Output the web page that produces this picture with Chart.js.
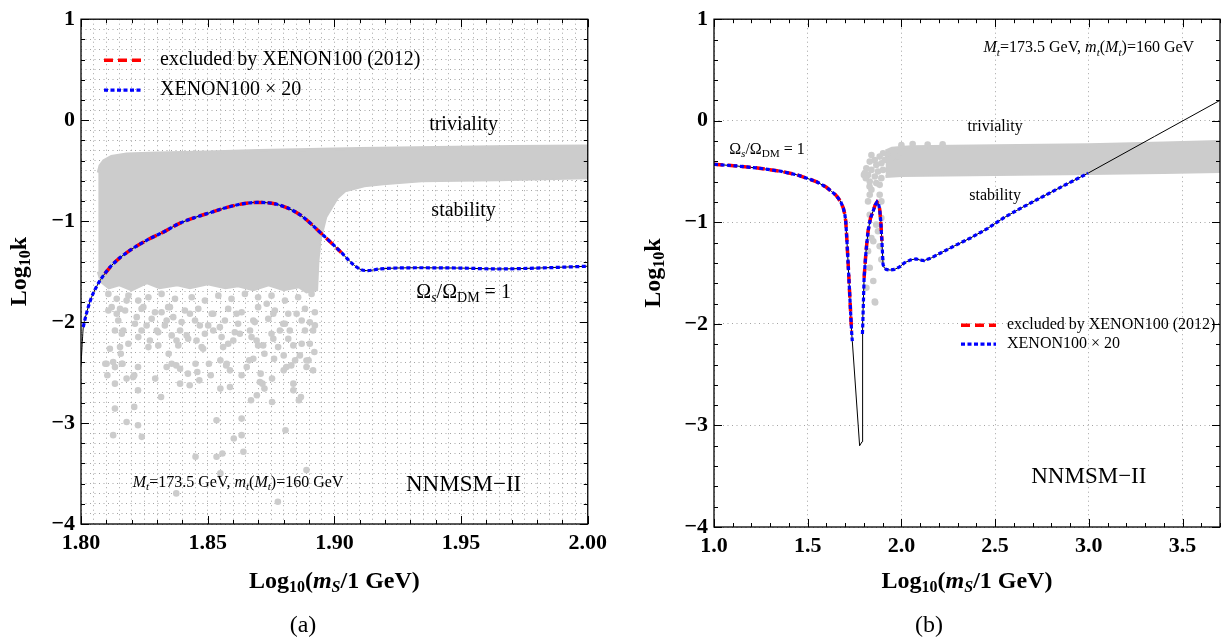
<!DOCTYPE html>
<html>
<head>
<meta charset="utf-8">
<script src="https://cdn.jsdelivr.net/npm/chart.js@4.4.1/dist/chart.umd.min.js"></script>
<style>
  html, body { margin: 0; padding: 0; background: #fff; }
  #wrap { position: relative; width: 1226px; height: 640px; overflow: hidden; }
  canvas { position: absolute; top: 0; }
</style>
</head>
<body>
<div id="wrap">
  <canvas id="chartA" width="613" height="640" style="left:0"></canvas>
  <canvas id="chartB" width="613" height="640" style="left:613px"></canvas>
</div>
<script>
// tick labels
const xMajorA = [1.80, 1.85, 1.90, 1.95, 2.00];
const xMajorB = [1.0, 1.5, 2.0, 2.5, 3.0, 3.5];
const yMajor = [-4, -3, -2, -1, 0, 1];

// panel (a) : relic density line Omega_s/Omega_DM = 1
const relicA = [[1.8,-2.43],[1.8004,-2.25],[1.8009,-2.05],[1.8015,-1.98],[1.8035,-1.80],[1.8061,-1.65],
  [1.8094,-1.52],[1.8128,-1.42],[1.8193,-1.29],[1.8259,-1.19],[1.8324,-1.11],[1.8391,-1.02],[1.8512,-0.914],
  [1.8618,-0.838],[1.8694,-0.815],[1.8769,-0.831],[1.886,-0.93],[1.8951,-1.128],[1.9027,-1.31],[1.9072,-1.424],
  [1.9105,-1.48],[1.9132,-1.49],[1.9178,-1.474],[1.9344,-1.462],[1.95,-1.465],[1.9647,-1.474],[1.98,-1.465],[2.0,-1.447]];
const redRangesA = [[1.8094, 1.9027]];
const blueRangesA = [[1.8009, 2.0]];

// panel (a) : scan points (dense part as upper / lower edge, loose points listed)
const bandTopA = [[1.8068,-0.52],[1.8075,-0.45],[1.809,-0.40],[1.812,-0.36],[1.818,-0.335],[1.83,-0.325],
  [1.85,-0.315],[1.87,-0.30],[1.89,-0.29],[1.91,-0.28],[1.94,-0.27],[1.97,-0.26],[2.0,-0.255]];
const bandLowA = [[1.8068,-1.5],[1.808,-1.6],[1.811,-1.66],[1.815,-1.63],[1.82,-1.68],[1.826,-1.61],[1.831,-1.66],
  [1.838,-1.63],[1.843,-1.66],[1.85,-1.62],[1.857,-1.66],[1.862,-1.64],[1.868,-1.68],[1.874,-1.63],[1.88,-1.68],
  [1.886,-1.65],[1.889,-1.70],[1.893,-1.68],[1.8935,-1.4],[1.8943,-1.19],[1.8966,-0.96],
  [1.9011,-0.77],[1.9042,-0.70],[1.9118,-0.65],[1.9193,-0.63],[1.9344,-0.60],[1.9647,-0.59],[2.0,-0.57]];
const scanA = [[1.8108,-1.885],[1.8141,-1.918],[1.8154,-1.869],[1.8167,-2.083],[1.8134,-2.083],[1.8114,-2.264],
  [1.8154,-2.248],[1.8101,-2.413],[1.8134,-2.446],[1.8161,-2.413],[1.8206,-2.545],[1.8239,-2.083],[1.822,-1.951],
  [1.8259,-2.034],[1.8299,-2.083],[1.8272,-2.182],[1.8305,-2.231],[1.8318,-1.902],[1.8338,-1.984],[1.8364,-1.951],
  [1.8391,-2.083],[1.8377,-2.182],[1.8358,-2.413],[1.8417,-2.132],[1.8469,-2.034],[1.8456,-2.182],[1.8482,-2.264],
  [1.8522,-2.083],[1.8548,-2.05],[1.8561,-2.248],[1.8575,-2.413],[1.8601,-2.182],[1.8627,-2.116],[1.8667,-2.083],
  [1.868,-1.984],[1.8693,-2.182],[1.8719,-2.231],[1.868,-2.363],[1.8654,-2.446],[1.8706,-2.594],[1.8759,-2.165],
  [1.8785,-2.083],[1.8798,-2.017],[1.8824,-2.083],[1.8838,-2.231],[1.8864,-2.33],[1.889,-2.38],[1.8903,-2.215],
  [1.8916,-2.083],[1.8916,-2.478],[1.8838,-2.61],[1.8811,-2.446],[1.8903,-2.001],[1.8851,-1.918],[1.8759,-1.918],
  [1.8733,-1.819],[1.8614,-1.918],[1.8522,-1.918],[1.843,-1.918],[1.8351,-1.852],[1.8246,-1.852],[1.818,-1.787],
  [1.8157,-2.313],[1.8096,-2.412],[1.8127,-2.396],[1.8164,-2.412],[1.8104,-2.527],[1.8134,-2.61],[1.818,-2.56],
  [1.821,-2.527],[1.8225,-2.445],[1.8346,-2.313],[1.8376,-2.429],[1.8391,-2.462],[1.8422,-2.511],[1.8452,-2.412],
  [1.8459,-2.495],[1.8467,-2.577],[1.8429,-2.626],[1.8391,-2.61],[1.8338,-2.445],[1.8293,-2.56],[1.855,-2.379],
  [1.8573,-2.429],[1.8588,-2.478],[1.8634,-2.527],[1.8664,-2.379],[1.8709,-2.511],[1.8754,-2.56],[1.8762,-2.363],
  [1.88,-2.478],[1.883,-2.429],[1.8845,-2.379],[1.889,-2.445],[1.8898,-2.379],[1.8921,-2.297],[1.8505,-2.412],
  [1.8512,-2.527],[1.855,-2.659],[1.8588,-2.643],[1.8716,-2.61],[1.8724,-2.659],[1.8838,-2.676],[1.886,-2.774],
  [1.8868,-2.742],[1.88,-2.33],[1.8724,-2.313],[1.8316,-2.742],[1.8225,-2.676],[1.821,-2.84],[1.8134,-2.857],
  [1.818,-2.989],[1.8225,-3.022],[1.8127,-3.12],[1.824,-3.137],[1.8535,-2.972],[1.8634,-2.956],[1.8634,-3.12],
  [1.8641,-3.285],[1.8603,-3.153],[1.8535,-3.334],[1.8558,-3.301],[1.8452,-3.334],[1.855,-3.499],[1.8376,-3.697],
  [1.8777,-3.779],[1.8807,-3.071],[1.889,-3.466],[1.8671,-2.774],[1.8694,-2.725],[1.8754,-2.791],
  [1.8108,-1.721],[1.8141,-1.77],[1.8187,-1.738],[1.8226,-1.787],[1.8266,-1.754],[1.8318,-1.721],[1.8371,-1.77],
  [1.8437,-1.754],[1.8489,-1.787],[1.8542,-1.738],[1.8594,-1.77],[1.8647,-1.721],[1.8699,-1.754],[1.8752,-1.738],
  [1.8805,-1.787],[1.8857,-1.754],[1.891,-1.721],
  [1.8121,-1.852],[1.8174,-1.885],[1.8239,-1.869],[1.8292,-1.902],[1.8344,-1.852],[1.841,-1.885],[1.8463,-1.869],
  [1.8516,-1.918],[1.8581,-1.869],[1.8634,-1.902],[1.8699,-1.852],[1.8765,-1.885],[1.8818,-1.918],[1.8884,-1.869],
  [1.8923,-1.902],
  [1.8147,-1.984],[1.8213,-2.017],[1.8279,-1.968],[1.8331,-2.033],[1.8397,-2.0],[1.845,-1.984],[1.8502,-2.033],
  [1.8568,-1.984],[1.862,-2.017],[1.8686,-2.0],[1.8739,-1.968],[1.8805,-2.017],[1.8871,-1.984],[1.8923,-2.033],
  [1.8161,-2.116],[1.8226,-2.149],[1.8305,-2.1],[1.8358,-2.132],[1.8423,-2.165],[1.8489,-2.116],[1.8555,-2.149],
  [1.8607,-2.1],[1.8673,-2.149],[1.8752,-2.116],[1.8818,-2.165],[1.8884,-2.083],
  [1.8187,-2.215],[1.8266,-2.248],[1.8384,-2.231],[1.8476,-2.248],[1.8581,-2.215],[1.8699,-2.231],[1.8778,-2.248],
  [1.8871,-2.215]];

// panel (b) : relic density line
const relicB = [[1.0,-0.428],[1.12,-0.445],[1.241,-0.467],[1.35,-0.495],[1.444,-0.533],[1.545,-0.598],[1.60,-0.655],
  [1.627,-0.696],[1.648,-0.728],[1.663,-0.762],[1.678,-0.805],[1.69,-0.86],[1.698,-0.92],[1.703,-0.99],[1.709,-1.17],
  [1.716,-1.415],[1.725,-1.74],[1.734,-2.07],[1.738,-2.17],[1.777,-3.2],[1.790,-3.16],[1.792,-2.1],[1.794,-2.0],
  [1.801,-1.546],[1.811,-1.29],[1.822,-1.088],[1.835,-0.96],[1.849,-0.89],[1.860,-0.83],[1.870,-0.80],[1.878,-0.82],
  [1.884,-0.87],[1.890,-0.99],[1.896,-1.186],[1.902,-1.415],[1.909,-1.45],[1.919,-1.464],[1.94,-1.47],[1.963,-1.464],
  [1.99,-1.44],[2.016,-1.399],[2.05,-1.37],[2.078,-1.36],[2.10,-1.372],[2.122,-1.376],[2.16,-1.35],[2.193,-1.317],
  [2.28,-1.235],[2.369,-1.154],[2.46,-1.06],[2.545,-0.957],[2.63,-0.868],[2.722,-0.778],[2.86,-0.645],[2.996,-0.516],
  [3.35,-0.155],[3.702,0.203]];
const redRangesB = [[1.0, 1.734], [1.801, 1.896]];
const blueRangesB = [[1.0, 1.738], [1.792, 2.996]];

// panel (b) : scan points
const bandTopB = [[1.915,-0.30],[1.95,-0.27],[2.05,-0.255],[2.5,-0.245],[3.0,-0.235],[3.4,-0.22],[3.7,-0.205]];
const bandLowB = [[1.915,-0.55],[2.0,-0.54],[2.5,-0.53],[3.0,-0.52],[3.4,-0.51],[3.7,-0.50]];
const scanB = [[1.84,-0.337],[1.858,-0.386],[1.884,-0.353],[1.902,-0.32],[1.831,-0.402],[1.866,-0.435],
  [1.893,-0.418],[1.911,-0.386],[1.813,-0.467],[1.84,-0.484],[1.875,-0.5],[1.902,-0.484],[1.822,-0.533],
  [1.858,-0.549],[1.893,-0.565],[1.805,-0.516],[1.831,-0.598],[1.866,-0.614],[1.884,-0.631],[1.84,-0.68],
  [1.831,-0.729],[1.884,-0.729],[1.893,-0.794],[1.822,-0.794],[1.831,-0.925],[1.893,-0.957],[1.866,-1.023],
  [1.875,-1.088],[1.84,-1.154],[1.884,-1.235],[1.822,-1.284],[1.893,-1.366],[1.831,-1.448],[1.813,-1.644],
  [1.858,-1.781],[1.928,-0.337],[1.946,-0.369],[1.963,-0.304],[1.981,-0.353],[1.85,-1.186],[1.85,-1.578],
  [1.86,-1.79],[1.80,-0.533],[1.81,-0.566],[1.83,-0.647],[2.0,-0.24],[2.06,-0.23],[2.14,-0.235],[2.22,-0.232]];

const SERIF = '"Liberation Serif", "Times New Roman", serif';
const GRAY = 'rgb(204,204,204)';
const GRID = '#a4a4a4';

function font(size, style) { return (style || '') + ' ' + size + 'px ' + SERIF; }
function isMult(v, s) { const r = v / s; return Math.abs(r - Math.round(r)) < 1e-4; }

// draws text made of several runs (font / vertical shift), used for subscripts
function rich(ctx, parts, x, y, align) {
  let w = 0;
  parts.forEach(p => { ctx.font = p[1]; w += ctx.measureText(p[0]).width; });
  let cx = align === 'center' ? x - w / 2 : (align === 'right' ? x - w : x);
  ctx.textAlign = 'left';
  ctx.textBaseline = 'middle';
  parts.forEach(p => {
    ctx.font = p[1];
    ctx.fillText(p[0], cx, y + (p[2] || 0));
    cx += ctx.measureText(p[0]).width;
  });
}

function omegaLabel(s) {
  return [['Ω', font(s)], ['s', font(s * 0.7, 'italic'), s * 0.3], ['/Ω', font(s)],
          ['DM', font(s * 0.7), s * 0.3], [' = 1', font(s)]];
}
function massLabel(s) {
  const it = font(s, 'italic'), sub = font(s * 0.7, 'italic'), d = s * 0.3;
  return [['M', it], ['t', sub, d], ['=173.5 GeV, ', font(s)], ['m', it], ['t', sub, d], ['(', font(s)],
          ['M', it], ['t', sub, d], [')=160 GeV', font(s)]];
}

const xTitle = [['Log', font(24, 'bold')], ['10', font(16, 'bold'), 6], ['(', font(24, 'bold')],
                ['m', font(24, 'bold italic')], ['S', font(16, 'bold italic'), 6], ['/1 GeV)', font(24, 'bold')]];
const yTitle = [['Log', font(24, 'bold')], ['10', font(16, 'bold'), 6], ['k', font(24, 'bold')]];

function makeDecor(p) {
  return {
    id: 'decor',
    afterDatasetsDraw(chart) {
      const ctx = chart.ctx, a = chart.chartArea, sx = chart.scales.x, sy = chart.scales.y;
      ctx.save();
      // inward ticks on all four sides
      ctx.strokeStyle = '#000';
      ctx.lineWidth = 1;
      ctx.setLineDash([]);
      ctx.beginPath();
      sx.ticks.forEach(t => {
        const len = isMult(t.value, p.xTick[1]) ? 8 : (isMult(t.value, p.xTick[0]) ? 4 : 0);
        if (!len) return;
        const px = Math.round(sx.getPixelForValue(t.value)) + 0.5;
        ctx.moveTo(px, a.bottom); ctx.lineTo(px, a.bottom - len);
        ctx.moveTo(px, a.top); ctx.lineTo(px, a.top + len);
      });
      sy.ticks.forEach(t => {
        const len = isMult(t.value, 1) ? 8 : (isMult(t.value, 0.2) ? 4 : 0);
        if (!len) return;
        const py = Math.round(sy.getPixelForValue(t.value)) + 0.5;
        ctx.moveTo(a.left, py); ctx.lineTo(a.left + len, py);
        ctx.moveTo(a.right, py); ctx.lineTo(a.right - len, py);
      });
      ctx.stroke();
      ctx.lineWidth = 1.3;
      ctx.strokeRect(a.left, a.top, a.right - a.left, a.bottom - a.top);

      // labels inside the frame
      ctx.fillStyle = '#000';
      p.notes.forEach(n => rich(ctx, n.parts, sx.getPixelForValue(n.x), sy.getPixelForValue(n.y), n.align));

      // legend
      const lg = p.legend;
      const styles = [['#ff0000', 3.5, [9, 5], 'excluded by XENON100 (2012)'],
                      ['#0000ff', 3.2, [4, 2.5], 'XENON100 × 20']];
      styles.forEach((s, i) => {
        const y = a.top + lg.y[i];
        ctx.strokeStyle = s[0]; ctx.lineWidth = s[1]; ctx.setLineDash(s[2]);
        ctx.beginPath(); ctx.moveTo(a.left + lg.x0, y); ctx.lineTo(a.left + lg.x1, y); ctx.stroke();
        ctx.setLineDash([]);
        rich(ctx, [[s[3], font(lg.size)]], a.left + lg.tx, y, 'left');
      });

      // axis titles and caption
      rich(ctx, xTitle, (a.left + a.right) / 2, 582, 'center');
      ctx.save();
      ctx.translate(p.yTitleX, (a.top + a.bottom) / 2);
      ctx.rotate(-Math.PI / 2);
      rich(ctx, yTitle, 0, 0, 'center');
      ctx.restore();
      rich(ctx, [[p.caption, font(24)]], p.captionX, 626, 'center');
      ctx.restore();
    }
  };
}

function buildChart(id, p) {
  const pts = arr => arr.map(q => ({ x: q[0], y: q[1] }));
  const within = (arr, r) => pts(arr.filter(q => q[0] >= r[0] - 1e-9 && q[0] <= r[1] + 1e-9));
  const curve = p.smooth ? { cubicInterpolationMode: 'monotone' } : { tension: 0 };
  const datasets = [
    { type: 'line', data: pts(p.bandTop), fill: '+1', backgroundColor: GRAY, borderColor: GRAY,
      borderWidth: 3, pointRadius: 0, tension: 0, order: 10, clip: 0 },
    { type: 'line', data: pts(p.bandLow), fill: false, borderColor: GRAY,
      borderWidth: 3, pointRadius: 0, tension: 0, order: 10, clip: 0 },
    { type: 'scatter', data: pts(p.scan), backgroundColor: GRAY, borderWidth: 0, pointRadius: 3.3,
      order: 9, clip: 0 },
    Object.assign({ type: 'line', data: pts(p.relic), borderColor: '#000', borderWidth: 1, pointRadius: 0,
      fill: false, order: 3, clip: 0 }, curve)
  ];
  p.redRanges.forEach(r => datasets.push(Object.assign({ type: 'line', data: within(p.relic, r),
    borderColor: '#ff0000', borderWidth: 3.5, borderDash: [9, 5], borderCapStyle: 'butt', pointRadius: 0,
    fill: false, order: 2, clip: 0 }, curve)));
  p.blueRanges.forEach(r => datasets.push(Object.assign({ type: 'line', data: within(p.relic, r),
    borderColor: '#0000ff', borderWidth: 3.2, borderDash: [4, 2.5], borderCapStyle: 'butt', pointRadius: 0,
    fill: false, order: 1, clip: 0 }, curve)));

  const tickFont = { family: SERIF, size: 22, weight: 'bold' };
  const labelFor = (v, list, dec) => {
    const m = list.find(t => Math.abs(t - v) < 1e-6);
    if (m === undefined) return '';
    const s = Math.abs(m).toFixed(dec);
    return m < 0 ? '−' + s : s;
  };

  return new Chart(document.getElementById(id), {
    type: 'scatter',
    data: { datasets: datasets },
    options: {
      responsive: false,
      animation: false,
      events: [],
      layout: { padding: p.padding },
      plugins: { legend: { display: false }, tooltip: { enabled: false } },
      scales: {
        x: {
          type: 'linear', min: p.xRange[0], max: p.xRange[1],
          ticks: { stepSize: p.xStep, autoSkip: false, maxRotation: 0, minRotation: 0, padding: 6,
                   color: '#000', font: tickFont, callback: v => labelFor(v, p.xMajor, p.xDec) },
          grid: { drawTicks: false, lineWidth: 1,
                  color: c => (c.tick && isMult(c.tick.value, p.xGrid)) ? GRID : 'rgba(0,0,0,0)' },
          border: { display: false, dash: [1, 3.5] },
          afterFit: s => { s.height = p.xAxisH; }
        },
        y: {
          type: 'linear', min: -4, max: 1,
          ticks: { stepSize: p.yStep, autoSkip: false, padding: 6, color: '#000', font: tickFont,
                   callback: v => labelFor(v, yMajor, 0) },
          grid: { drawTicks: false, lineWidth: 1,
                  color: c => (c.tick && isMult(c.tick.value, p.yGrid)) ? GRID : 'rgba(0,0,0,0)' },
          border: { display: false, dash: [1, 3.5] },
          afterFit: s => { s.width = p.yAxisW; }
        }
      }
    },
    plugins: [makeDecor(p)]
  });
}

buildChart('chartA', {
  relic: relicA, redRanges: redRangesA, blueRanges: blueRangesA, smooth: true,
  bandTop: bandTopA, bandLow: bandLowA, scan: scanA,
  xRange: [1.8, 2.0], xStep: 0.005, xGrid: 0.005, xTick: [0.01, 0.05], xMajor: xMajorA, xDec: 2,
  yStep: 0.1, yGrid: 0.1,
  padding: { left: 0, right: 25, top: 18, bottom: 0 }, xAxisH: 116, yAxisW: 81,
  legend: { x0: 23, x1: 60, tx: 79, y: [41, 71], size: 20 },
  notes: [
    { parts: [['triviality', font(20)]], x: 1.951, y: -0.047, align: 'center' },
    { parts: [['stability', font(20)]], x: 1.951, y: -0.897, align: 'center' },
    { parts: omegaLabel(20), x: 1.951, y: -1.71, align: 'center' },
    { parts: [['NNMSM−II', font(23)]], x: 1.951, y: -3.61, align: 'center' },
    { parts: massLabel(16), x: 1.862, y: -3.59, align: 'center' }
  ],
  yTitleX: 20, caption: '(a)', captionX: 303
});

buildChart('chartB', {
  relic: relicB, redRanges: redRangesB, blueRanges: blueRangesB, smooth: false,
  bandTop: bandTopB, bandLow: bandLowB, scan: scanB,
  xRange: [1.0, 3.7], xStep: 0.1, xGrid: 0.5, xTick: [0.1, 0.5], xMajor: xMajorB, xDec: 1,
  yStep: 0.2, yGrid: 1,
  padding: { left: 0, right: 1, top: 17, bottom: 0 }, xAxisH: 113, yAxisW: 101,
  legend: { x0: 247, x1: 282, tx: 293, y: [306, 325], size: 16 },
  notes: [
    { parts: massLabel(16), x: 3.0, y: 0.716, align: 'center' },
    { parts: [['triviality', font(16)]], x: 2.5, y: -0.06, align: 'center' },
    { parts: [['stability', font(16)]], x: 2.5, y: -0.735, align: 'center' },
    { parts: omegaLabel(16), x: 1.081, y: -0.284, align: 'left' },
    { parts: [['NNMSM−II', font(23)]], x: 3.0, y: -3.51, align: 'center' }
  ],
  yTitleX: 41, caption: '(b)', captionX: 316
});
</script>
</body>
</html>
